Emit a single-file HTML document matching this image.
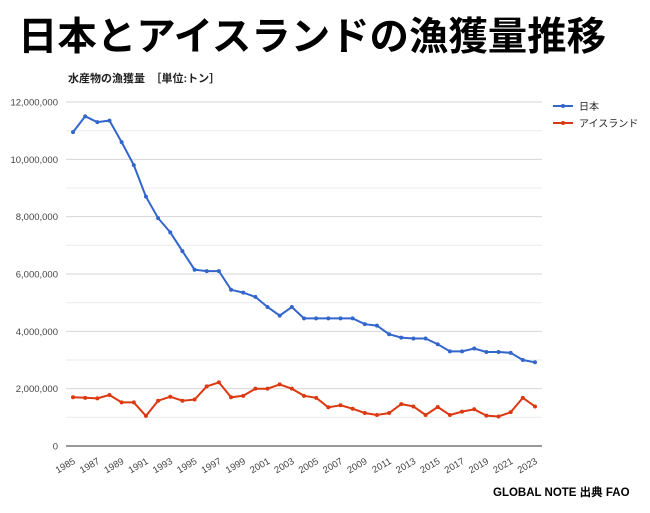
<!DOCTYPE html>
<html><head><meta charset="utf-8"><style>
body{margin:0;background:#fff;width:650px;height:513px;overflow:hidden;font-family:"Liberation Sans","Noto Sans CJK JP",sans-serif}
</style></head><body>
<svg id="s" width="650" height="513" xmlns="http://www.w3.org/2000/svg" style="position:absolute;left:0;top:0">
<text x="18" y="50" font-size="39" font-weight="bold" font-family="'Noto Sans CJK JP',sans-serif" fill="#000" textLength="588" lengthAdjust="spacingAndGlyphs">日本とアイスランドの漁獲量推移</text>
<text x="68" y="82" font-size="11" font-weight="bold" font-family="'Liberation Sans','Noto Sans CJK JP',sans-serif" fill="#222">水産物の漁獲量　［単位:トン］</text>
<g id="g"></g>
<line x1="553" y1="106" x2="573" y2="106" stroke="#3366cc" stroke-width="2"/><circle cx="563" cy="106" r="2" fill="#3366cc"/>
<text x="579" y="110" font-size="10" fill="#222" font-family="'Liberation Sans','Noto Sans CJK JP',sans-serif">日本</text>
<line x1="553" y1="123" x2="573" y2="123" stroke="#dc3912" stroke-width="2"/><circle cx="563" cy="123" r="2" fill="#dc3912"/>
<text x="579" y="127" font-size="10" fill="#222" font-family="'Liberation Sans','Noto Sans CJK JP',sans-serif">アイスランド</text>
<text x="493" y="496" font-size="11.5" font-weight="bold" fill="#000" font-family="'Liberation Sans','Noto Sans CJK JP',sans-serif">GLOBAL NOTE 出典 FAO</text>
</svg>
<script>
var jp=[10.95,11.5,11.3,11.35,10.6,9.8,8.7,7.95,7.45,6.8,6.15,6.1,6.1,5.45,5.35,5.2,4.85,4.55,4.85,4.45,4.45,4.45,4.45,4.45,4.25,4.2,3.9,3.78,3.75,3.75,3.55,3.3,3.3,3.4,3.28,3.28,3.25,3.0,2.92];
var is=[1.7,1.68,1.66,1.78,1.52,1.52,1.05,1.58,1.72,1.58,1.62,2.08,2.22,1.7,1.75,2.0,2.0,2.15,2.0,1.75,1.68,1.35,1.42,1.3,1.15,1.08,1.15,1.46,1.38,1.08,1.36,1.08,1.2,1.28,1.06,1.03,1.18,1.68,1.38];
var x0=73,dx=(535-73)/38,y0=446,sy=(446-102)/12;
var h='';
for(var i=0;i<=12;i++){var y=y0-i*sy;h+='<line x1="66" x2="542" y1="'+y+'" y2="'+y+'" stroke="'+(i==0?'#333':(i%2?'#ebebeb':'#d6d6d6'))+'" stroke-width="1"/>';
if(i%2==0){var v=(i*1000000).toLocaleString('en-US');h+='<text x="58" y="'+(y+3.5)+'" font-size="9.5" text-anchor="end" fill="#444">'+v+'</text>';}}
for(var k=0;k<39;k+=2){var x=x0+k*dx;h+='<text transform="translate('+(x+3)+',463) rotate(-30)" font-size="9.5" text-anchor="end" fill="#444">'+(1985+k)+'</text>';}
function ser(d,c){var p=d.map(function(v,i){return (x0+i*dx).toFixed(1)+','+(y0-v*sy).toFixed(1)}).join(' ');
h+='<polyline points="'+p+'" fill="none" stroke="'+c+'" stroke-width="2"/>';
d.forEach(function(v,i){h+='<circle cx="'+(x0+i*dx)+'" cy="'+(y0-v*sy)+'" r="2" fill="'+c+'"/>';});}
ser(jp,'#3366cc');ser(is,'#dc3912');
document.getElementById('g').innerHTML=h;
</script>
</body></html>
